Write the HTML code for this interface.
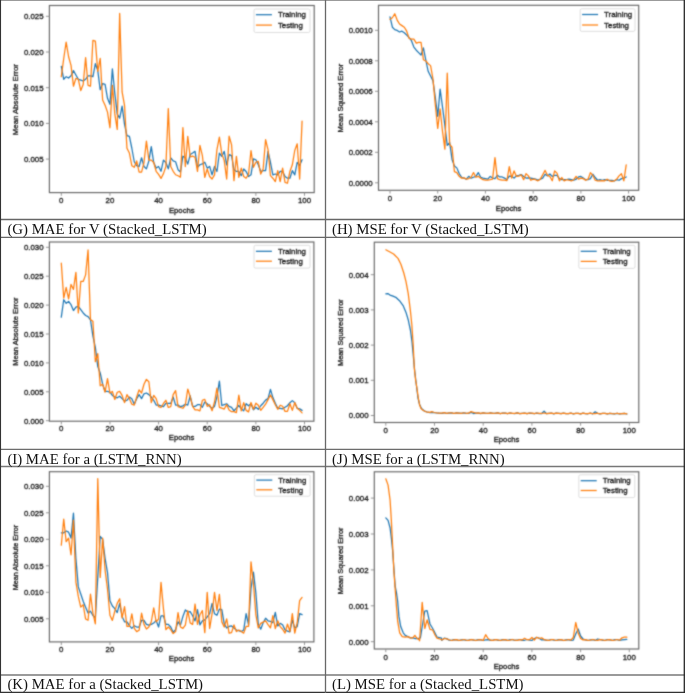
<!DOCTYPE html>
<html><head><meta charset="utf-8"><style>
html,body{margin:0;padding:0;background:#fff;}
body{width:685px;height:693px;overflow:hidden;}
svg{display:block;will-change:transform;}
.t{font-family:"Liberation Sans",sans-serif;font-size:7.85px;fill:#1c1c1c;stroke:#1c1c1c;stroke-width:0.32px;}
.c{font-family:"Liberation Serif",serif;font-size:14.8px;fill:#111;}
</style></head><body>
<svg width="685" height="693" viewBox="0 0 685 693">
<defs><filter id="bl" x="0" y="0" width="685" height="693" filterUnits="userSpaceOnUse" color-interpolation-filters="sRGB"><feConvolveMatrix order="3" kernelMatrix="0.04 0.1 0.04 0.1 0.44 0.1 0.04 0.1 0.04" edgeMode="none" preserveAlpha="false"/></filter></defs>
<rect width="685" height="693" fill="#fff"/>
<g filter="url(#bl)">
<polyline points="61.30,66.28 63.73,79.26 66.16,76.67 68.60,78.05 71.03,75.80 73.46,70.61 75.89,74.94 78.32,79.26 80.76,80.13 83.19,81.00 85.62,79.26 88.05,75.80 90.48,75.80 92.92,76.67 95.35,63.68 97.78,70.61 100.21,89.65 102.64,83.59 105.08,84.46 107.51,98.31 109.94,104.37 112.37,68.87 114.80,93.12 117.24,114.13 119.67,118.10 122.10,106.19 124.53,124.44 126.96,135.56 129.40,136.35 131.83,148.25 134.26,161.75 136.69,165.71 139.12,166.51 141.56,157.78 143.99,166.51 146.42,168.89 148.85,160.95 151.28,146.67 153.72,162.54 156.15,168.10 158.58,166.51 161.01,171.27 163.44,160.16 165.88,162.54 168.31,168.89 170.74,157.78 173.17,160.95 175.60,161.75 178.04,169.68 180.47,172.06 182.90,156.19 185.33,157.78 187.76,164.13 190.20,154.60 192.63,153.02 195.06,151.34 197.49,167.29 199.92,164.77 202.36,163.93 204.79,162.26 207.22,168.13 209.65,166.45 212.08,174.85 214.52,166.45 216.95,171.49 219.38,153.02 221.81,156.38 224.24,151.34 226.68,164.77 229.11,154.70 231.54,155.54 233.97,169.81 236.40,171.49 238.84,171.49 241.27,175.69 243.70,168.97 246.13,171.49 248.56,176.53 251.00,174.85 253.43,158.90 255.86,159.74 258.29,164.77 260.72,171.49 263.16,170.65 265.59,170.65 268.02,151.34 270.45,162.26 272.88,174.85 275.32,174.01 277.75,174.85 280.18,171.49 282.61,171.49 285.04,176.53 287.48,178.20 289.91,178.20 292.34,170.65 294.77,174.85 297.20,162.26 299.64,165.61 302.07,159.74" fill="none" stroke="#1f77b4" stroke-width="1.25" stroke-linejoin="round" stroke-linecap="round"/>
<polyline points="61.30,76.67 63.73,58.48 66.16,42.03 68.60,56.75 71.03,65.41 73.46,86.19 75.89,78.40 78.32,79.26 80.76,90.52 83.19,84.46 85.62,57.62 88.05,85.32 90.48,86.19 92.92,40.30 95.35,41.17 97.78,71.47 100.21,58.48 102.64,100.04 105.08,105.24 107.51,112.16 109.94,127.75 112.37,85.32 114.80,113.90 117.24,129.48 119.67,13.46 122.10,91.90 124.53,105.40 126.96,148.25 129.40,153.02 131.83,165.71 134.26,167.30 136.69,160.95 139.12,172.06 141.56,172.06 143.99,162.54 146.42,141.11 148.85,160.16 151.28,160.16 153.72,162.54 156.15,171.27 158.58,174.44 161.01,178.41 163.44,173.65 165.88,166.51 168.31,108.57 170.74,166.51 173.17,171.27 175.60,174.76 178.04,175.71 180.47,177.14 182.90,127.62 185.33,166.51 187.76,136.35 190.20,156.98 192.63,156.19 195.06,157.22 197.49,171.49 199.92,145.47 202.36,155.54 204.79,177.36 207.22,168.97 209.65,176.53 212.08,179.04 214.52,174.85 216.95,149.67 219.38,137.08 221.81,153.86 224.24,160.58 226.68,179.04 229.11,136.24 231.54,144.63 233.97,180.72 236.40,156.38 238.84,177.36 241.27,168.13 243.70,176.53 246.13,178.20 248.56,174.01 251.00,150.51 253.43,167.29 255.86,162.26 258.29,161.42 260.72,174.01 263.16,168.97 265.59,139.59 268.02,149.67 270.45,175.69 272.88,178.20 275.32,181.56 277.75,170.65 280.18,181.56 282.61,168.13 285.04,182.40 287.48,183.24 289.91,171.49 292.34,164.77 294.77,150.51 297.20,143.79 299.64,179.04 302.07,121.13" fill="none" stroke="#ff7f0e" stroke-width="1.25" stroke-linejoin="round" stroke-linecap="round"/>
<rect x="49.4" y="5.5" width="264.80" height="187.10" fill="none" stroke="#666" stroke-width="1.15"/>
<line x1="61.30" y1="192.6" x2="61.30" y2="195.80" stroke="#8a8a8a" stroke-width="0.9"/>
<text x="61.30" y="203.45" text-anchor="middle" class="t">0</text>
<line x1="109.94" y1="192.6" x2="109.94" y2="195.80" stroke="#8a8a8a" stroke-width="0.9"/>
<text x="109.94" y="203.45" text-anchor="middle" class="t">20</text>
<line x1="158.58" y1="192.6" x2="158.58" y2="195.80" stroke="#8a8a8a" stroke-width="0.9"/>
<text x="158.58" y="203.45" text-anchor="middle" class="t">40</text>
<line x1="207.22" y1="192.6" x2="207.22" y2="195.80" stroke="#8a8a8a" stroke-width="0.9"/>
<text x="207.22" y="203.45" text-anchor="middle" class="t">60</text>
<line x1="255.86" y1="192.6" x2="255.86" y2="195.80" stroke="#8a8a8a" stroke-width="0.9"/>
<text x="255.86" y="203.45" text-anchor="middle" class="t">80</text>
<line x1="304.50" y1="192.6" x2="304.50" y2="195.80" stroke="#8a8a8a" stroke-width="0.9"/>
<text x="304.50" y="203.45" text-anchor="middle" class="t">100</text>
<line x1="45.90" y1="159.10" x2="49.4" y2="159.10" stroke="#8a8a8a" stroke-width="0.9"/>
<text x="43.60" y="161.90" text-anchor="end" class="t">0.005</text>
<line x1="45.90" y1="123.40" x2="49.4" y2="123.40" stroke="#8a8a8a" stroke-width="0.9"/>
<text x="43.60" y="126.20" text-anchor="end" class="t">0.010</text>
<line x1="45.90" y1="87.70" x2="49.4" y2="87.70" stroke="#8a8a8a" stroke-width="0.9"/>
<text x="43.60" y="90.50" text-anchor="end" class="t">0.015</text>
<line x1="45.90" y1="52.00" x2="49.4" y2="52.00" stroke="#8a8a8a" stroke-width="0.9"/>
<text x="43.60" y="54.80" text-anchor="end" class="t">0.020</text>
<line x1="45.90" y1="16.30" x2="49.4" y2="16.30" stroke="#8a8a8a" stroke-width="0.9"/>
<text x="43.60" y="19.10" text-anchor="end" class="t">0.025</text>
<text x="181.80" y="212.50" text-anchor="middle" class="t" style="font-size:7.7px">Epochs</text>
<text x="0" y="0" transform="translate(18.20,99.65) rotate(-90)" text-anchor="middle" class="t" style="font-size:7.8px">Mean Absolute Error</text>
<rect x="254.00" y="9.00" width="56.00" height="23.50" rx="1.5" fill="#fff" fill-opacity="0.8" stroke="#d6d6d6" stroke-width="0.8"/>
<line x1="255.90" y1="14.70" x2="271.90" y2="14.70" stroke="#1f77b4" stroke-width="1.25"/>
<text x="277.90" y="17.40" class="t">Training</text>
<line x1="255.90" y1="25.10" x2="271.90" y2="25.10" stroke="#ff7f0e" stroke-width="1.25"/>
<text x="277.90" y="27.80" class="t">Testing</text>
<polyline points="390.00,16.90 392.39,27.22 394.77,29.60 397.16,30.40 399.54,31.98 401.93,31.19 404.32,32.78 406.70,35.16 409.09,37.54 411.47,40.71 413.86,47.06 416.25,50.24 418.63,52.62 421.02,55.00 423.40,47.86 425.79,60.00 428.18,71.26 430.56,75.95 432.95,80.64 435.33,97.52 437.72,116.29 440.11,89.08 442.49,106.90 444.88,125.67 447.26,145.37 449.65,142.55 452.04,159.44 454.42,166.00 456.81,167.88 459.19,173.51 461.58,177.26 463.97,178.20 466.35,179.14 468.74,176.32 471.12,178.20 473.51,177.26 475.90,176.32 478.28,172.57 480.67,177.26 483.05,178.20 485.44,178.57 487.83,179.14 490.21,176.43 492.60,178.07 494.98,178.62 497.37,175.33 499.76,176.98 502.14,176.98 504.53,178.07 506.91,179.72 509.30,176.21 511.69,176.43 514.07,178.07 516.46,175.88 518.84,175.33 521.23,174.57 523.62,176.43 526.00,178.07 528.39,177.85 530.77,178.07 533.16,178.62 535.55,179.17 537.93,180.04 540.32,179.17 542.70,178.07 545.09,174.24 547.48,175.88 549.86,174.02 552.25,176.43 554.63,175.33 557.02,175.33 559.41,178.62 561.79,179.72 564.18,179.72 566.56,179.50 568.95,179.17 571.34,179.72 573.72,180.26 576.11,179.17 578.49,176.98 580.88,176.43 583.27,178.07 585.65,179.72 588.04,179.72 590.42,178.62 592.81,174.24 595.20,177.52 597.58,180.26 599.97,179.72 602.35,180.26 604.74,179.72 607.13,180.26 609.51,180.26 611.90,180.26 614.28,180.81 616.67,179.72 619.06,180.26 621.44,178.62 623.83,178.07 626.21,176.98" fill="none" stroke="#1f77b4" stroke-width="1.25" stroke-linejoin="round" stroke-linecap="round"/>
<polyline points="390.00,19.29 392.39,17.70 394.77,13.73 397.16,20.08 399.54,24.05 401.93,25.63 404.32,27.22 406.70,31.19 409.09,38.33 411.47,39.13 413.86,39.13 416.25,43.10 418.63,42.30 421.02,42.30 423.40,59.76 425.79,60.94 428.18,63.75 430.56,65.63 432.95,78.76 435.33,105.03 437.72,128.48 440.11,108.78 442.49,131.29 444.88,149.12 447.26,73.13 449.65,144.43 452.04,147.24 454.42,171.63 456.81,172.57 459.19,176.32 461.58,178.20 463.97,177.82 466.35,179.14 468.74,178.57 471.12,177.26 473.51,172.57 475.90,177.26 478.28,176.32 480.67,178.20 483.05,179.70 485.44,180.08 487.83,180.08 490.21,179.72 492.60,179.17 494.98,157.56 497.37,178.62 499.76,179.72 502.14,180.04 504.53,180.04 506.91,180.59 509.30,166.57 511.69,178.07 514.07,170.95 516.46,176.43 518.84,176.21 521.23,174.79 523.62,179.72 526.00,173.69 528.39,175.88 530.77,180.26 533.16,179.17 535.55,179.72 537.93,180.81 540.32,179.17 542.70,174.79 545.09,170.41 547.48,175.33 549.86,176.43 552.25,180.81 554.63,170.95 557.02,173.14 559.41,180.81 561.79,177.52 564.18,180.81 566.56,179.72 568.95,180.26 571.34,180.81 573.72,179.72 576.11,176.43 578.49,179.17 580.88,178.07 583.27,178.62 585.65,180.26 588.04,179.17 590.42,172.60 592.81,175.33 595.20,180.26 597.58,180.81 599.97,180.81 602.35,180.59 604.74,180.81 607.13,179.17 609.51,180.81 611.90,181.36 614.28,180.81 616.67,179.17 619.06,175.88 621.44,173.69 623.83,180.81 626.21,164.93" fill="none" stroke="#ff7f0e" stroke-width="1.25" stroke-linejoin="round" stroke-linecap="round"/>
<rect x="378.5" y="5.3" width="260.20" height="185.00" fill="none" stroke="#666" stroke-width="1.15"/>
<line x1="390.00" y1="190.3" x2="390.00" y2="193.50" stroke="#8a8a8a" stroke-width="0.9"/>
<text x="390.00" y="201.15" text-anchor="middle" class="t">0</text>
<line x1="437.72" y1="190.3" x2="437.72" y2="193.50" stroke="#8a8a8a" stroke-width="0.9"/>
<text x="437.72" y="201.15" text-anchor="middle" class="t">20</text>
<line x1="485.44" y1="190.3" x2="485.44" y2="193.50" stroke="#8a8a8a" stroke-width="0.9"/>
<text x="485.44" y="201.15" text-anchor="middle" class="t">40</text>
<line x1="533.16" y1="190.3" x2="533.16" y2="193.50" stroke="#8a8a8a" stroke-width="0.9"/>
<text x="533.16" y="201.15" text-anchor="middle" class="t">60</text>
<line x1="580.88" y1="190.3" x2="580.88" y2="193.50" stroke="#8a8a8a" stroke-width="0.9"/>
<text x="580.88" y="201.15" text-anchor="middle" class="t">80</text>
<line x1="628.60" y1="190.3" x2="628.60" y2="193.50" stroke="#8a8a8a" stroke-width="0.9"/>
<text x="628.60" y="201.15" text-anchor="middle" class="t">100</text>
<line x1="375.00" y1="182.80" x2="378.5" y2="182.80" stroke="#8a8a8a" stroke-width="0.9"/>
<text x="372.70" y="185.60" text-anchor="end" class="t">0.0000</text>
<line x1="375.00" y1="152.30" x2="378.5" y2="152.30" stroke="#8a8a8a" stroke-width="0.9"/>
<text x="372.70" y="155.10" text-anchor="end" class="t">0.0002</text>
<line x1="375.00" y1="121.80" x2="378.5" y2="121.80" stroke="#8a8a8a" stroke-width="0.9"/>
<text x="372.70" y="124.60" text-anchor="end" class="t">0.0004</text>
<line x1="375.00" y1="91.30" x2="378.5" y2="91.30" stroke="#8a8a8a" stroke-width="0.9"/>
<text x="372.70" y="94.10" text-anchor="end" class="t">0.0006</text>
<line x1="375.00" y1="60.80" x2="378.5" y2="60.80" stroke="#8a8a8a" stroke-width="0.9"/>
<text x="372.70" y="63.60" text-anchor="end" class="t">0.0008</text>
<line x1="375.00" y1="30.30" x2="378.5" y2="30.30" stroke="#8a8a8a" stroke-width="0.9"/>
<text x="372.70" y="33.10" text-anchor="end" class="t">0.0010</text>
<text x="508.60" y="210.50" text-anchor="middle" class="t" style="font-size:7.7px">Epochs</text>
<text x="0" y="0" transform="translate(343.20,98.20) rotate(-90)" text-anchor="middle" class="t" style="font-size:7.6px">Mean Squared Error</text>
<rect x="580.20" y="8.80" width="54.80" height="22.60" rx="1.5" fill="#fff" fill-opacity="0.8" stroke="#d6d6d6" stroke-width="0.8"/>
<line x1="582.10" y1="14.50" x2="598.10" y2="14.50" stroke="#1f77b4" stroke-width="1.25"/>
<text x="604.10" y="17.20" class="t">Training</text>
<line x1="582.10" y1="25.00" x2="598.10" y2="25.00" stroke="#ff7f0e" stroke-width="1.25"/>
<text x="604.10" y="27.70" class="t">Testing</text>
<polyline points="61.30,317.14 63.73,299.73 66.16,303.37 68.60,301.38 71.03,304.70 73.46,310.51 75.89,307.19 78.32,306.36 80.76,309.68 83.19,312.99 85.62,315.48 88.05,316.64 90.48,320.00 92.92,336.05 95.35,347.29 97.78,366.55 100.21,372.97 102.64,384.21 105.08,391.43 107.51,391.43 109.94,392.23 112.37,395.44 114.80,397.05 117.24,397.85 119.67,396.24 122.10,398.65 124.53,401.06 126.96,400.26 129.40,397.05 131.83,398.65 134.26,404.27 136.69,398.65 139.12,394.64 141.56,398.65 143.99,393.84 146.42,393.03 148.85,394.64 151.28,397.05 153.72,400.26 156.15,405.07 158.58,405.07 161.01,405.87 163.44,406.68 165.88,403.47 168.31,403.47 170.74,403.47 173.17,397.05 175.60,405.07 178.04,405.07 180.47,406.68 182.90,405.87 185.33,404.27 187.76,405.07 190.20,395.90 192.63,406.41 195.06,406.41 197.49,404.66 199.92,404.66 202.36,407.29 204.79,402.03 207.22,403.78 209.65,406.41 212.08,408.16 214.52,406.41 216.95,396.78 219.38,381.02 221.81,405.53 224.24,404.66 226.68,403.78 229.11,406.41 231.54,407.29 233.97,410.79 236.40,408.16 238.84,405.53 241.27,408.82 243.70,410.86 246.13,403.71 248.56,405.75 251.00,403.71 253.43,409.84 255.86,407.28 258.29,409.33 260.72,405.75 263.16,403.20 265.59,400.13 268.02,398.60 270.45,389.41 272.88,397.58 275.32,403.20 277.75,408.30 280.18,408.30 282.61,408.82 285.04,407.28 287.48,405.75 289.91,402.69 292.34,400.64 294.77,402.69 297.20,408.30 299.64,408.82 302.07,410.35" fill="none" stroke="#1f77b4" stroke-width="1.25" stroke-linejoin="round" stroke-linecap="round"/>
<polyline points="61.30,263.24 63.73,298.07 66.16,287.29 68.60,298.90 71.03,284.47 73.46,289.44 75.89,272.36 78.32,312.99 80.76,281.48 83.19,281.48 85.62,274.85 88.05,249.98 90.48,319.63 92.92,321.20 95.35,361.73 97.78,353.71 100.21,385.81 102.64,384.21 105.08,392.23 107.51,378.59 109.94,393.03 112.37,391.43 114.80,399.45 117.24,392.23 119.67,391.43 122.10,395.44 124.53,402.66 126.96,394.64 129.40,398.65 131.83,404.27 134.26,405.07 136.69,397.05 139.12,389.82 141.56,393.03 143.99,384.21 146.42,379.39 148.85,381.80 151.28,402.66 153.72,395.44 156.15,398.65 158.58,406.68 161.01,407.48 163.44,403.47 165.88,400.26 168.31,407.48 170.74,406.68 173.17,394.64 175.60,390.63 178.04,406.68 180.47,407.48 182.90,408.28 185.33,405.07 187.76,389.02 190.20,396.78 192.63,406.41 195.06,409.91 197.49,409.91 199.92,410.79 202.36,400.28 204.79,399.40 207.22,406.41 209.65,404.66 212.08,410.79 214.52,402.03 216.95,388.02 219.38,407.29 221.81,408.16 224.24,409.04 226.68,404.66 229.11,409.91 231.54,411.66 233.97,411.66 236.40,412.54 238.84,395.03 241.27,410.86 243.70,402.69 246.13,410.35 248.56,411.88 251.00,402.48 253.43,409.33 255.86,403.20 258.29,405.24 260.72,410.35 263.16,407.28 265.59,404.22 268.02,399.62 270.45,395.03 272.88,399.62 275.32,404.73 277.75,409.33 280.18,405.24 282.61,406.26 285.04,411.37 287.48,411.37 289.91,403.71 292.34,410.35 294.77,402.48 297.20,408.30 299.64,410.35 302.07,412.90" fill="none" stroke="#ff7f0e" stroke-width="1.25" stroke-linejoin="round" stroke-linecap="round"/>
<rect x="49.4" y="242.0" width="264.50" height="179.20" fill="none" stroke="#666" stroke-width="1.15"/>
<line x1="61.30" y1="421.2" x2="61.30" y2="424.40" stroke="#8a8a8a" stroke-width="0.9"/>
<text x="61.30" y="431.25" text-anchor="middle" class="t">0</text>
<line x1="109.94" y1="421.2" x2="109.94" y2="424.40" stroke="#8a8a8a" stroke-width="0.9"/>
<text x="109.94" y="431.25" text-anchor="middle" class="t">20</text>
<line x1="158.58" y1="421.2" x2="158.58" y2="424.40" stroke="#8a8a8a" stroke-width="0.9"/>
<text x="158.58" y="431.25" text-anchor="middle" class="t">40</text>
<line x1="207.22" y1="421.2" x2="207.22" y2="424.40" stroke="#8a8a8a" stroke-width="0.9"/>
<text x="207.22" y="431.25" text-anchor="middle" class="t">60</text>
<line x1="255.86" y1="421.2" x2="255.86" y2="424.40" stroke="#8a8a8a" stroke-width="0.9"/>
<text x="255.86" y="431.25" text-anchor="middle" class="t">80</text>
<line x1="304.50" y1="421.2" x2="304.50" y2="424.40" stroke="#8a8a8a" stroke-width="0.9"/>
<text x="304.50" y="431.25" text-anchor="middle" class="t">100</text>
<line x1="45.90" y1="420.70" x2="49.4" y2="420.70" stroke="#8a8a8a" stroke-width="0.9"/>
<text x="43.60" y="423.50" text-anchor="end" class="t">0.000</text>
<line x1="45.90" y1="391.80" x2="49.4" y2="391.80" stroke="#8a8a8a" stroke-width="0.9"/>
<text x="43.60" y="394.60" text-anchor="end" class="t">0.005</text>
<line x1="45.90" y1="362.90" x2="49.4" y2="362.90" stroke="#8a8a8a" stroke-width="0.9"/>
<text x="43.60" y="365.70" text-anchor="end" class="t">0.010</text>
<line x1="45.90" y1="334.00" x2="49.4" y2="334.00" stroke="#8a8a8a" stroke-width="0.9"/>
<text x="43.60" y="336.80" text-anchor="end" class="t">0.015</text>
<line x1="45.90" y1="305.10" x2="49.4" y2="305.10" stroke="#8a8a8a" stroke-width="0.9"/>
<text x="43.60" y="307.90" text-anchor="end" class="t">0.020</text>
<line x1="45.90" y1="276.20" x2="49.4" y2="276.20" stroke="#8a8a8a" stroke-width="0.9"/>
<text x="43.60" y="279.00" text-anchor="end" class="t">0.025</text>
<line x1="45.90" y1="247.30" x2="49.4" y2="247.30" stroke="#8a8a8a" stroke-width="0.9"/>
<text x="43.60" y="250.10" text-anchor="end" class="t">0.030</text>
<text x="181.65" y="440.40" text-anchor="middle" class="t" style="font-size:7.7px">Epochs</text>
<text x="0" y="0" transform="translate(18.40,331.60) rotate(-90)" text-anchor="middle" class="t" style="font-size:7.5px">Mean Absolute Error</text>
<rect x="254.00" y="245.30" width="56.00" height="22.80" rx="1.5" fill="#fff" fill-opacity="0.8" stroke="#d6d6d6" stroke-width="0.8"/>
<line x1="255.90" y1="251.30" x2="271.90" y2="251.30" stroke="#1f77b4" stroke-width="1.25"/>
<text x="277.90" y="254.00" class="t">Training</text>
<line x1="255.90" y1="261.20" x2="271.90" y2="261.20" stroke="#ff7f0e" stroke-width="1.25"/>
<text x="277.90" y="263.90" class="t">Testing</text>
<polyline points="385.80,293.80 387.80,293.60 390.00,295.10 393.00,296.20 395.80,297.30 399.50,300.70 403.10,305.50 406.00,312.40 408.20,319.70 410.40,330.00 412.00,342.00 413.50,358.00 414.80,372.00 416.50,386.00 418.00,398.00 419.60,404.50 421.50,408.50 424.00,410.80 427.00,412.00 430.00,412.60 433.00,412.30 436.80,413.00 439.37,413.21 441.81,413.28 444.24,412.77 446.68,413.41 449.11,413.09 451.55,412.90 453.98,413.49 456.42,412.92 458.85,413.12 461.29,413.45 463.72,412.83 466.16,413.35 468.59,413.30 471.03,412.30 473.46,413.51 475.89,413.11 478.33,413.02 480.76,413.56 483.20,412.95 485.63,413.25 488.07,413.49 490.50,412.90 492.94,413.47 495.38,413.32 497.81,412.97 500.25,413.61 502.68,413.13 505.12,413.15 507.55,413.63 509.99,413.00 512.42,413.39 514.86,413.52 517.29,412.98 519.73,413.59 522.16,413.34 524.60,413.08 527.03,413.70 529.47,413.16 531.90,413.29 534.34,413.68 536.77,413.05 539.21,413.52 541.64,413.55 544.08,411.20 546.51,413.70 548.95,413.36 551.38,413.20 553.82,413.78 556.25,413.19 558.68,413.42 561.12,413.73 563.56,413.11 565.99,413.65 568.42,413.57 570.86,413.16 573.30,413.81 575.73,413.38 578.16,413.33 580.60,413.85 583.04,413.23 585.47,413.56 587.90,413.76 590.34,413.18 592.77,413.77 595.21,411.80 597.64,413.27 600.08,413.90 602.51,413.40 604.95,413.46 607.38,413.91 609.82,413.28 612.25,413.69 614.69,413.79 617.12,413.27 619.56,413.89 622.00,413.61 624.43,413.38 626.87,413.99" fill="none" stroke="#1f77b4" stroke-width="1.25" stroke-linejoin="round" stroke-linecap="round"/>
<polyline points="385.80,249.80 390.00,252.00 393.60,254.00 398.00,258.40 400.90,264.20 403.80,273.00 406.00,281.70 408.20,293.40 410.40,310.90 411.90,325.50 413.20,345.00 414.30,368.00 415.60,380.00 416.90,388.00 418.30,398.00 419.60,405.00 421.00,408.50 423.00,410.30 426.00,411.80 430.00,412.40 431.80,411.70 434.00,412.50 437.00,412.90 439.37,413.11 441.81,413.18 444.24,412.67 446.68,413.31 449.11,412.99 451.55,412.81 453.98,413.40 456.42,412.82 458.85,413.02 461.29,413.36 463.72,412.74 466.16,413.26 468.59,413.21 471.03,411.60 473.46,412.30 475.89,413.02 478.33,412.94 480.76,413.48 483.20,412.87 485.63,413.17 488.07,413.41 490.50,412.82 492.94,413.39 495.38,413.24 497.81,412.89 500.25,413.54 502.68,413.06 505.12,413.08 507.55,413.55 509.99,412.93 512.42,413.32 514.86,413.45 517.29,412.91 519.73,413.52 522.16,413.27 524.60,413.02 527.03,413.64 529.47,413.10 531.90,413.22 534.34,413.62 536.77,412.99 539.21,413.46 541.64,413.49 544.08,413.01 546.51,413.65 548.95,413.30 551.38,413.15 553.82,413.73 556.25,413.14 558.68,413.37 561.12,413.68 563.56,413.06 565.99,413.60 568.42,413.52 570.86,413.12 573.30,413.76 575.73,413.33 578.16,413.28 580.60,413.81 583.04,413.19 585.47,413.52 587.90,413.72 590.34,413.15 592.77,413.74 595.21,413.55 597.64,413.23 600.08,413.87 602.51,413.37 604.95,413.43 607.38,413.88 609.82,413.25 612.25,413.66 614.69,413.76 617.12,413.24 619.56,413.86 622.00,413.58 624.43,413.36 626.87,413.97" fill="none" stroke="#ff7f0e" stroke-width="1.25" stroke-linejoin="round" stroke-linecap="round"/>
<rect x="374.3" y="242.2" width="264.50" height="180.30" fill="none" stroke="#666" stroke-width="1.15"/>
<line x1="385.80" y1="422.5" x2="385.80" y2="425.70" stroke="#8a8a8a" stroke-width="0.9"/>
<text x="385.80" y="432.95" text-anchor="middle" class="t">0</text>
<line x1="434.50" y1="422.5" x2="434.50" y2="425.70" stroke="#8a8a8a" stroke-width="0.9"/>
<text x="434.50" y="432.95" text-anchor="middle" class="t">20</text>
<line x1="483.20" y1="422.5" x2="483.20" y2="425.70" stroke="#8a8a8a" stroke-width="0.9"/>
<text x="483.20" y="432.95" text-anchor="middle" class="t">40</text>
<line x1="531.90" y1="422.5" x2="531.90" y2="425.70" stroke="#8a8a8a" stroke-width="0.9"/>
<text x="531.90" y="432.95" text-anchor="middle" class="t">60</text>
<line x1="580.60" y1="422.5" x2="580.60" y2="425.70" stroke="#8a8a8a" stroke-width="0.9"/>
<text x="580.60" y="432.95" text-anchor="middle" class="t">80</text>
<line x1="629.30" y1="422.5" x2="629.30" y2="425.70" stroke="#8a8a8a" stroke-width="0.9"/>
<text x="629.30" y="432.95" text-anchor="middle" class="t">100</text>
<line x1="370.80" y1="415.50" x2="374.3" y2="415.50" stroke="#8a8a8a" stroke-width="0.9"/>
<text x="368.50" y="418.30" text-anchor="end" class="t">0.000</text>
<line x1="370.80" y1="380.30" x2="374.3" y2="380.30" stroke="#8a8a8a" stroke-width="0.9"/>
<text x="368.50" y="383.10" text-anchor="end" class="t">0.001</text>
<line x1="370.80" y1="345.10" x2="374.3" y2="345.10" stroke="#8a8a8a" stroke-width="0.9"/>
<text x="368.50" y="347.90" text-anchor="end" class="t">0.002</text>
<line x1="370.80" y1="309.90" x2="374.3" y2="309.90" stroke="#8a8a8a" stroke-width="0.9"/>
<text x="368.50" y="312.70" text-anchor="end" class="t">0.003</text>
<line x1="370.80" y1="274.70" x2="374.3" y2="274.70" stroke="#8a8a8a" stroke-width="0.9"/>
<text x="368.50" y="277.50" text-anchor="end" class="t">0.004</text>
<text x="506.55" y="442.20" text-anchor="middle" class="t" style="font-size:7.7px">Epochs</text>
<text x="0" y="0" transform="translate(343.20,332.65) rotate(-90)" text-anchor="middle" class="t" style="font-size:7.36px">Mean Squared Error</text>
<rect x="578.80" y="245.30" width="56.20" height="23.10" rx="1.5" fill="#fff" fill-opacity="0.8" stroke="#d6d6d6" stroke-width="0.8"/>
<line x1="580.70" y1="251.30" x2="596.70" y2="251.30" stroke="#1f77b4" stroke-width="1.25"/>
<text x="602.70" y="254.00" class="t">Training</text>
<line x1="580.70" y1="261.40" x2="596.70" y2="261.40" stroke="#ff7f0e" stroke-width="1.25"/>
<text x="602.70" y="264.10" class="t">Testing</text>
<polyline points="61.30,532.86 63.73,532.86 66.16,530.95 68.60,532.14 71.03,538.10 73.46,513.10 75.89,558.33 78.32,586.90 80.76,594.05 83.19,601.19 85.62,607.14 88.05,613.10 90.48,611.19 92.92,615.48 95.35,617.86 97.78,577.38 100.21,536.43 102.64,539.29 105.08,558.33 107.51,572.62 109.94,600.74 112.37,605.99 114.80,608.62 117.24,612.56 119.67,603.36 122.10,616.50 124.53,621.76 126.96,621.76 129.40,625.70 131.83,628.33 134.26,625.70 136.69,627.02 139.12,627.02 141.56,620.45 143.99,620.45 146.42,624.39 148.85,625.05 151.28,624.39 153.72,623.07 156.15,620.45 158.58,627.02 161.01,615.85 163.44,615.85 165.88,624.39 168.31,624.39 170.74,627.02 173.17,632.27 175.60,629.65 178.04,621.76 180.47,625.05 182.90,616.50 185.33,609.93 187.76,611.91 190.20,611.66 192.63,615.75 195.06,620.86 197.49,609.62 199.92,624.94 202.36,620.86 204.79,619.84 207.22,616.77 209.65,613.71 212.08,603.49 214.52,613.71 216.95,615.24 219.38,609.11 221.81,609.62 224.24,623.92 226.68,628.01 229.11,626.48 231.54,625.97 233.97,628.01 236.40,630.05 238.84,630.56 241.27,631.58 243.70,630.05 246.13,613.71 248.56,624.94 251.00,588.68 253.43,572.08 255.86,592.86 258.29,624.03 260.72,629.22 263.16,622.73 265.59,618.18 268.02,620.78 270.45,621.43 272.88,622.73 275.32,612.34 277.75,625.97 280.18,623.38 282.61,624.68 285.04,629.87 287.48,631.17 289.91,631.82 292.34,620.13 294.77,627.92 297.20,626.62 299.64,613.64 302.07,614.68" fill="none" stroke="#1f77b4" stroke-width="1.25" stroke-linejoin="round" stroke-linecap="round"/>
<polyline points="61.30,545.24 63.73,519.05 66.16,541.67 68.60,538.10 71.03,554.76 73.46,520.24 75.89,582.14 78.32,596.43 80.76,607.14 83.19,604.76 85.62,619.05 88.05,620.24 90.48,594.05 92.92,613.10 95.35,623.81 97.78,478.57 100.21,577.38 102.64,538.10 105.08,570.24 107.51,589.29 109.94,615.19 112.37,620.45 114.80,611.25 117.24,603.36 119.67,598.76 122.10,617.82 124.53,606.65 126.96,626.36 129.40,626.36 131.83,613.88 134.26,628.33 136.69,631.62 139.12,630.30 141.56,613.22 143.99,624.39 146.42,628.99 148.85,627.02 151.28,621.76 153.72,607.96 156.15,621.76 158.58,619.13 161.01,582.34 163.44,608.62 165.88,629.65 168.31,627.02 170.74,629.65 173.17,633.59 175.60,631.62 178.04,612.56 180.47,627.02 182.90,628.33 185.33,625.05 187.76,610.59 190.20,622.90 192.63,624.43 195.06,604.00 197.49,624.43 199.92,614.73 202.36,610.64 204.79,632.60 207.22,592.26 209.65,628.52 212.08,613.71 214.52,592.26 216.95,610.64 219.38,594.30 221.81,621.88 224.24,626.99 226.68,618.82 229.11,633.12 231.54,632.60 233.97,624.94 236.40,631.58 238.84,630.05 241.27,631.58 243.70,633.12 246.13,626.48 248.56,626.48 251.00,561.82 253.43,583.77 255.86,614.94 258.29,627.92 260.72,623.38 263.16,622.08 265.59,620.78 268.02,624.68 270.45,627.92 272.88,615.58 275.32,628.57 277.75,620.78 280.18,626.62 282.61,629.22 285.04,633.12 287.48,624.03 289.91,631.56 292.34,613.64 294.77,633.12 297.20,622.73 299.64,600.65 302.07,597.40" fill="none" stroke="#ff7f0e" stroke-width="1.25" stroke-linejoin="round" stroke-linecap="round"/>
<rect x="49.4" y="471.7" width="264.50" height="170.20" fill="none" stroke="#666" stroke-width="1.15"/>
<line x1="61.30" y1="641.9" x2="61.30" y2="645.10" stroke="#8a8a8a" stroke-width="0.9"/>
<text x="61.30" y="652.15" text-anchor="middle" class="t">0</text>
<line x1="109.94" y1="641.9" x2="109.94" y2="645.10" stroke="#8a8a8a" stroke-width="0.9"/>
<text x="109.94" y="652.15" text-anchor="middle" class="t">20</text>
<line x1="158.58" y1="641.9" x2="158.58" y2="645.10" stroke="#8a8a8a" stroke-width="0.9"/>
<text x="158.58" y="652.15" text-anchor="middle" class="t">40</text>
<line x1="207.22" y1="641.9" x2="207.22" y2="645.10" stroke="#8a8a8a" stroke-width="0.9"/>
<text x="207.22" y="652.15" text-anchor="middle" class="t">60</text>
<line x1="255.86" y1="641.9" x2="255.86" y2="645.10" stroke="#8a8a8a" stroke-width="0.9"/>
<text x="255.86" y="652.15" text-anchor="middle" class="t">80</text>
<line x1="304.50" y1="641.9" x2="304.50" y2="645.10" stroke="#8a8a8a" stroke-width="0.9"/>
<text x="304.50" y="652.15" text-anchor="middle" class="t">100</text>
<line x1="45.90" y1="618.80" x2="49.4" y2="618.80" stroke="#8a8a8a" stroke-width="0.9"/>
<text x="43.60" y="621.60" text-anchor="end" class="t">0.005</text>
<line x1="45.90" y1="592.30" x2="49.4" y2="592.30" stroke="#8a8a8a" stroke-width="0.9"/>
<text x="43.60" y="595.10" text-anchor="end" class="t">0.010</text>
<line x1="45.90" y1="565.80" x2="49.4" y2="565.80" stroke="#8a8a8a" stroke-width="0.9"/>
<text x="43.60" y="568.60" text-anchor="end" class="t">0.015</text>
<line x1="45.90" y1="539.30" x2="49.4" y2="539.30" stroke="#8a8a8a" stroke-width="0.9"/>
<text x="43.60" y="542.10" text-anchor="end" class="t">0.020</text>
<line x1="45.90" y1="512.80" x2="49.4" y2="512.80" stroke="#8a8a8a" stroke-width="0.9"/>
<text x="43.60" y="515.60" text-anchor="end" class="t">0.025</text>
<line x1="45.90" y1="486.30" x2="49.4" y2="486.30" stroke="#8a8a8a" stroke-width="0.9"/>
<text x="43.60" y="489.10" text-anchor="end" class="t">0.030</text>
<text x="181.65" y="660.80" text-anchor="middle" class="t" style="font-size:7.7px">Epochs</text>
<text x="0" y="0" transform="translate(18.40,557.50) rotate(-90)" text-anchor="middle" class="t" style="font-size:7.18px">Mean Absolute Error</text>
<rect x="254.40" y="474.70" width="55.70" height="21.50" rx="1.5" fill="#fff" fill-opacity="0.8" stroke="#d6d6d6" stroke-width="0.8"/>
<line x1="256.30" y1="480.10" x2="272.30" y2="480.10" stroke="#1f77b4" stroke-width="1.25"/>
<text x="278.30" y="482.80" class="t">Training</text>
<line x1="256.30" y1="489.80" x2="272.30" y2="489.80" stroke="#ff7f0e" stroke-width="1.25"/>
<text x="278.30" y="492.50" class="t">Testing</text>
<polyline points="385.81,517.93 388.08,520.45 390.10,528.03 391.36,538.13 392.63,550.76 393.89,568.43 395.15,586.11 396.41,592.42 397.68,601.26 398.94,616.41 400.71,626.52 403.23,632.83 405.25,635.35 407.78,636.62 410.30,637.88 412.83,637.88 415.35,638.64 417.88,638.64 420.40,637.88 422.50,625.00 424.80,611.00 427.10,610.70 430.00,624.00 432.70,628.50 435.00,633.00 437.00,637.00 441.50,638.20 441.81,640.36 444.24,638.20 446.68,638.60 449.11,640.12 451.55,640.42 453.98,639.61 456.42,639.83 458.85,640.50 461.29,639.85 463.72,639.60 466.16,640.41 468.59,640.14 471.03,639.50 473.46,640.19 475.89,640.38 478.33,639.57 480.76,639.90 483.20,640.50 485.63,639.78 488.07,639.65 490.50,640.45 492.94,640.06 495.38,639.51 497.81,640.26 500.25,640.32 502.68,639.54 505.12,639.98 507.55,640.48 509.99,639.71 512.42,639.71 514.86,640.48 517.29,639.99 519.73,639.53 522.16,640.32 524.60,640.26 527.03,639.51 529.47,640.05 531.90,640.45 534.34,638.50 536.77,637.50 539.21,638.20 541.64,639.91 544.08,639.56 546.51,640.37 548.95,640.20 551.38,639.50 553.82,640.13 556.25,640.42 558.68,639.60 561.12,639.84 563.56,640.50 565.99,639.84 568.42,639.60 570.86,640.42 573.30,640.13 575.73,634.00 578.16,629.00 580.60,636.00 583.04,639.00 585.47,639.91 587.90,640.49 590.34,639.77 592.77,639.65 595.21,640.45 597.64,639.00 600.08,639.51 602.51,640.26 604.95,640.32 607.38,639.53 609.82,639.99 612.25,640.48 614.69,639.71 617.12,639.71 619.56,640.48 622.00,639.98 624.43,639.53 626.87,639.30" fill="none" stroke="#1f77b4" stroke-width="1.25" stroke-linejoin="round" stroke-linecap="round"/>
<polyline points="385.81,478.79 388.08,485.10 390.10,500.25 391.36,520.45 392.63,545.71 393.89,570.96 395.15,588.64 396.41,606.31 397.68,621.46 399.70,632.83 402.22,636.62 405.25,637.12 407.78,636.62 410.30,637.88 412.83,637.88 414.85,635.35 416.62,637.88 419.14,639.65 419.60,640.80 422.20,602.30 424.80,628.50 427.10,619.80 430.00,629.40 432.70,630.00 435.00,635.00 437.00,638.20 441.50,639.50 441.81,640.01 444.24,638.50 446.68,638.80 449.11,639.73 451.55,640.49 453.98,639.95 456.42,639.54 458.85,640.34 461.29,640.24 463.72,639.51 466.16,640.08 468.59,640.44 471.03,639.63 473.46,639.80 475.89,640.50 478.33,639.88 480.76,639.58 483.20,640.39 485.63,634.70 488.07,638.50 490.50,640.16 492.94,640.40 495.38,639.59 497.81,639.87 500.25,640.50 502.68,639.81 505.12,639.63 507.55,640.43 509.99,640.09 512.42,639.50 514.86,640.23 517.29,640.35 519.73,639.55 522.16,639.94 524.60,638.30 527.03,639.74 529.47,639.68 531.90,637.50 534.34,640.02 536.77,637.20 539.21,638.50 541.64,637.80 544.08,639.52 546.51,640.02 548.95,640.47 551.38,639.68 553.82,639.74 556.25,640.49 558.68,639.94 561.12,639.55 563.56,640.35 565.99,640.23 568.42,639.51 570.86,640.09 573.30,637.50 575.73,622.50 578.16,633.00 580.60,638.50 583.04,639.87 585.47,639.58 587.90,640.40 590.34,640.16 592.77,639.50 595.21,640.17 597.64,640.39 600.08,639.58 602.51,639.88 604.95,640.50 607.38,639.80 609.82,639.63 612.25,640.44 614.69,640.08 617.12,639.51 619.56,640.23 622.00,637.80 624.43,637.20 626.87,637.20" fill="none" stroke="#ff7f0e" stroke-width="1.25" stroke-linejoin="round" stroke-linecap="round"/>
<rect x="374.3" y="471.8" width="264.50" height="177.20" fill="none" stroke="#666" stroke-width="1.15"/>
<line x1="385.80" y1="649.0" x2="385.80" y2="652.20" stroke="#8a8a8a" stroke-width="0.9"/>
<text x="385.80" y="659.55" text-anchor="middle" class="t">0</text>
<line x1="434.50" y1="649.0" x2="434.50" y2="652.20" stroke="#8a8a8a" stroke-width="0.9"/>
<text x="434.50" y="659.55" text-anchor="middle" class="t">20</text>
<line x1="483.20" y1="649.0" x2="483.20" y2="652.20" stroke="#8a8a8a" stroke-width="0.9"/>
<text x="483.20" y="659.55" text-anchor="middle" class="t">40</text>
<line x1="531.90" y1="649.0" x2="531.90" y2="652.20" stroke="#8a8a8a" stroke-width="0.9"/>
<text x="531.90" y="659.55" text-anchor="middle" class="t">60</text>
<line x1="580.60" y1="649.0" x2="580.60" y2="652.20" stroke="#8a8a8a" stroke-width="0.9"/>
<text x="580.60" y="659.55" text-anchor="middle" class="t">80</text>
<line x1="629.30" y1="649.0" x2="629.30" y2="652.20" stroke="#8a8a8a" stroke-width="0.9"/>
<text x="629.30" y="659.55" text-anchor="middle" class="t">100</text>
<line x1="370.80" y1="641.70" x2="374.3" y2="641.70" stroke="#8a8a8a" stroke-width="0.9"/>
<text x="368.50" y="644.50" text-anchor="end" class="t">0.000</text>
<line x1="370.80" y1="605.80" x2="374.3" y2="605.80" stroke="#8a8a8a" stroke-width="0.9"/>
<text x="368.50" y="608.60" text-anchor="end" class="t">0.001</text>
<line x1="370.80" y1="569.90" x2="374.3" y2="569.90" stroke="#8a8a8a" stroke-width="0.9"/>
<text x="368.50" y="572.70" text-anchor="end" class="t">0.002</text>
<line x1="370.80" y1="534.00" x2="374.3" y2="534.00" stroke="#8a8a8a" stroke-width="0.9"/>
<text x="368.50" y="536.80" text-anchor="end" class="t">0.003</text>
<line x1="370.80" y1="498.10" x2="374.3" y2="498.10" stroke="#8a8a8a" stroke-width="0.9"/>
<text x="368.50" y="500.90" text-anchor="end" class="t">0.004</text>
<text x="506.55" y="668.70" text-anchor="middle" class="t" style="font-size:7.7px">Epochs</text>
<text x="0" y="0" transform="translate(343.20,560.80) rotate(-90)" text-anchor="middle" class="t" style="font-size:7.36px">Mean Squared Error</text>
<rect x="578.80" y="474.80" width="56.00" height="22.80" rx="1.5" fill="#fff" fill-opacity="0.8" stroke="#d6d6d6" stroke-width="0.8"/>
<line x1="580.70" y1="480.70" x2="596.70" y2="480.70" stroke="#1f77b4" stroke-width="1.25"/>
<text x="602.70" y="483.40" class="t">Training</text>
<line x1="580.70" y1="490.50" x2="596.70" y2="490.50" stroke="#ff7f0e" stroke-width="1.25"/>
<text x="602.70" y="493.20" class="t">Testing</text>
</g>
<line x1="0" y1="0.35" x2="685" y2="0.35" stroke="#555" stroke-width="0.7"/>
<line x1="0" y1="219.5" x2="685" y2="219.5" stroke="#666" stroke-width="1.3"/>
<line x1="0" y1="237.4" x2="685" y2="237.4" stroke="#666" stroke-width="1.3"/>
<line x1="0" y1="449.4" x2="685" y2="449.4" stroke="#6c6c6c" stroke-width="1.3"/>
<line x1="0" y1="466.6" x2="685" y2="466.6" stroke="#777" stroke-width="1.5"/>
<line x1="0" y1="675.0" x2="685" y2="675.0" stroke="#9a9a9a" stroke-width="1.9"/>
<line x1="0" y1="692.4" x2="685" y2="692.4" stroke="#333" stroke-width="1.3"/>
<line x1="0.5" y1="0" x2="0.5" y2="693" stroke="#333" stroke-width="1.1"/>
<line x1="325.5" y1="0" x2="325.5" y2="693" stroke="#686868" stroke-width="1.3"/>
<line x1="684.3" y1="0" x2="684.3" y2="693" stroke="#262626" stroke-width="1.3"/>
<text x="7.4" y="233.9" class="c">(G) MAE for V (Stacked_LSTM)</text>
<text x="332.0" y="233.9" class="c">(H) MSE for V (Stacked_LSTM)</text>
<text x="7.4" y="463.9" class="c">(I) MAE for a (LSTM_RNN)</text>
<text x="332.0" y="463.9" class="c">(J) MSE for a (LSTM_RNN)</text>
<text x="7.4" y="689.0" class="c">(K) MAE for a (Stacked_LSTM)</text>
<text x="332.0" y="689.0" class="c">(L) MSE for a (Stacked_LSTM)</text>
</svg>
</body></html>
